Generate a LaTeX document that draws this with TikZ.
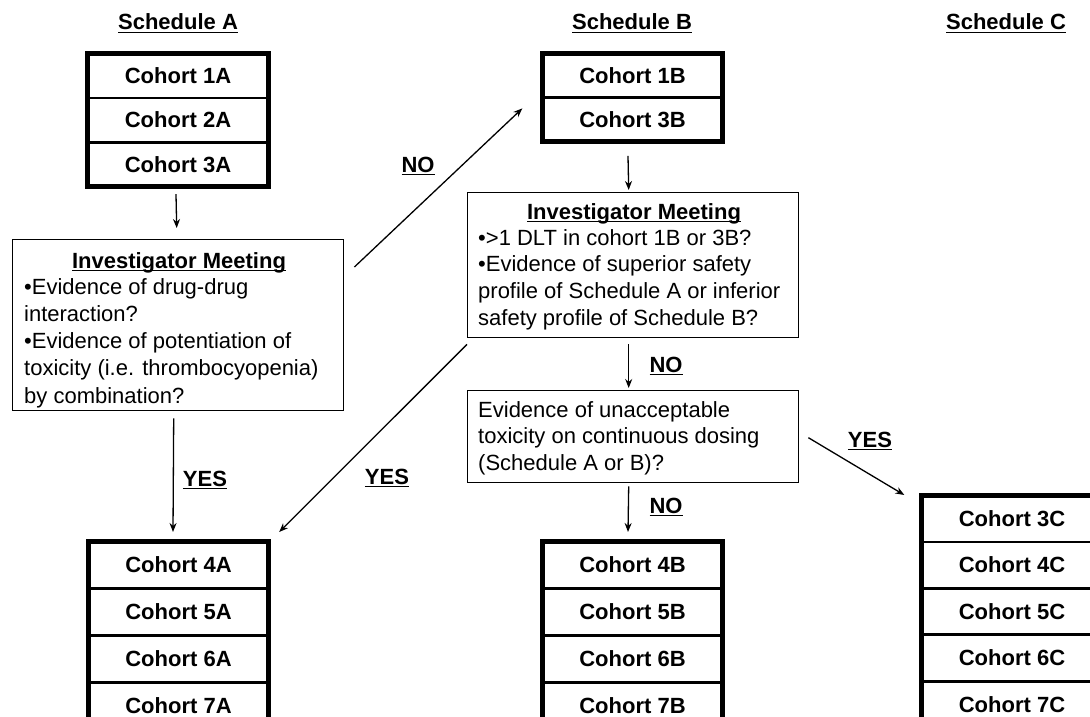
\documentclass[tikz,border=0pt]{standalone}
\usepackage{fontspec}
\setmainfont{Liberation Sans}
\newsavebox\myulbox
\newcommand\myul[1]{\sbox\myulbox{#1}\rlap{\rule[-3.4pt]{\wd\myulbox}{1.6pt}}\usebox\myulbox}
\usetikzlibrary{arrows.meta,calc}
\begin{document}
\begin{tikzpicture}[x=1pt,y=-1pt,
  cohort/.style={draw, line width=1.4pt, minimum width=179pt, minimum height=#1, inner sep=0pt, anchor=north, font=\fontsize{22}{26}\selectfont\bfseries},
  frame/.style={line width=5pt},
  mbox/.style={draw, line width=1.4pt, anchor=north west, inner sep=0pt},
  mtitle/.style={font=\fontsize{22}{26}\selectfont\bfseries, inner sep=0pt, anchor=base},
  mbody/.style={font=\fontsize{22}{#1}\selectfont, inner sep=0pt, align=left, anchor=base west},
  yn/.style={font=\fontsize{22}{26}\selectfont\bfseries, inner sep=0pt, anchor=base},
  arr/.style={line width=1.3pt, -{Stealth[length=9pt,width=7pt]}}]
\useasboundingbox (0,0) rectangle (1090,717);
\fill[white] (0,0) rectangle (1090,717);
\clip (0,0) rectangle (1090,717);

% titles
\node[yn] (tA) at (178,30) {\myul{Schedule A}};
\node[yn] (tB) at (632,30) {\myul{Schedule B}};
\node[yn] (tC) at (1006,30) {\myul{Schedule C}};

% Schedule A top
\node[cohort=43pt] (a1) at (178,53.5) {Cohort 1A};
\node[cohort=43pt] (a2) at (a1.south) {Cohort 2A};
\node[cohort=43pt] (a3) at (a2.south) {Cohort 3A};
\draw[frame] (a1.north west) rectangle (a3.south east);

% Schedule B top
\node[cohort=42.5pt] (b1) at (632.5,53.5) {Cohort 1B};
\node[cohort=42.5pt] (b3) at (b1.south) {Cohort 3B};
\draw[frame] (b1.north west) rectangle (b3.south east);

% Meeting A
\node[mbox, minimum width=331pt, minimum height=171pt] (mA) at (12,239) {};
\node[mtitle] (mAt) at (179,268) {\myul{Investigator Meeting}};
\node[mbody=27.3pt] (mAb) at (24,403.2) {•Evidence of drug-drug\\interaction?\\•Evidence of potentiation of\\toxicity (i.e. thrombocyopenia)\\by combination?};

% Meeting B
\node[mbox, minimum width=331pt, minimum height=145pt] (mB) at (467,192) {};
\node[mtitle] (mBt) at (634,219) {\myul{Investigator Meeting}};
\node[mbody=26.7pt] (mBb) at (478,325.1) {•>1 DLT in cohort 1B or 3B?\\•Evidence of superior safety\\profile of Schedule A or inferior\\safety profile of Schedule B?};

% Evidence box
\node[mbox, minimum width=331pt, minimum height=92pt] (ev) at (467,390) {};
\node[mbody=26.7pt] (evb) at (478,470.4) {Evidence of unacceptable\\toxicity on continuous dosing\\(Schedule A or B)?};

% Bottom A
\node[cohort=45.5pt] (a4) at (178.5,541.5) {Cohort 4A};
\node[cohort=45.5pt] (a5) at (a4.south) {Cohort 5A};
\node[cohort=45.5pt] (a6) at (a5.south) {Cohort 6A};
\node[cohort=45.5pt] (a7) at (a6.south) {Cohort 7A};
\draw[frame] (a4.north west) rectangle (a7.south east);

% Bottom B
\node[cohort=45.5pt] (b4) at (632.5,541.5) {Cohort 4B};
\node[cohort=45.5pt] (b5) at (b4.south) {Cohort 5B};
\node[cohort=45.5pt] (b6) at (b5.south) {Cohort 6B};
\node[cohort=45.5pt] (b7) at (b6.south) {Cohort 7B};
\draw[frame] (b4.north west) rectangle (b7.south east);

% Schedule C
\node[cohort=45pt] (c3) at (1012,495.5) {Cohort 3C};
\node[cohort=45pt] (c4) at (c3.south) {Cohort 4C};
\node[cohort=45pt] (c5) at (c4.south) {Cohort 5C};
\node[cohort=45pt] (c6) at (c5.south) {Cohort 6C};
\node[cohort=45pt] (c7) at (c6.south) {Cohort 7C};
\draw[frame] (c3.north west) rectangle (c7.south east);

% arrows
\draw[arr] ($(a3.south)+(-2,7.5)$) -- ($(mA.north)+(-1.5,-11)$);
\draw[arr] ($(b3.south)+(-4.5,14.5)$) -- ($(mB.north)+(-4.5,-2)$);
\draw[arr] ($(mB.south)+(-4.5,6)$) -- ($(ev.north)+(-4.5,-2)$);
\draw[arr] ($(ev.south)+(-4.5,3)$) -- ($(b4.north)+(-4.5,-9.5)$);
\draw[arr] ($(mA.south)+(-4.5,7)$) -- ($(a4.north)+(-5.5,-9.5)$);
\draw[arr] ($(mA.north east)+(10,28)$) -- ($(b1.south west)+(-20,11)$);
\draw[arr] ($(mB.south west)+(0,6)$) -- ($(a4.north east)+(10.5,-9.5)$);
\draw[arr] ($(ev.east)+(9,1)$) -- ($(c3.north west)+(-17.5,-0.5)$);

% labels
\node[yn] (lno1) at (418,172) {\myul{NO}};
\node[yn] (lyes1) at (205,486) {\myul{YES}};
\node[yn] (lyes2) at (387,484) {\myul{YES}};
\node[yn] (lno2) at (666,372) {\myul{NO}};
\node[yn] (lno3) at (666,513) {\myul{NO}};
\node[yn] (lyes3) at (870,447) {\myul{YES}};
\end{tikzpicture}
\end{document}
